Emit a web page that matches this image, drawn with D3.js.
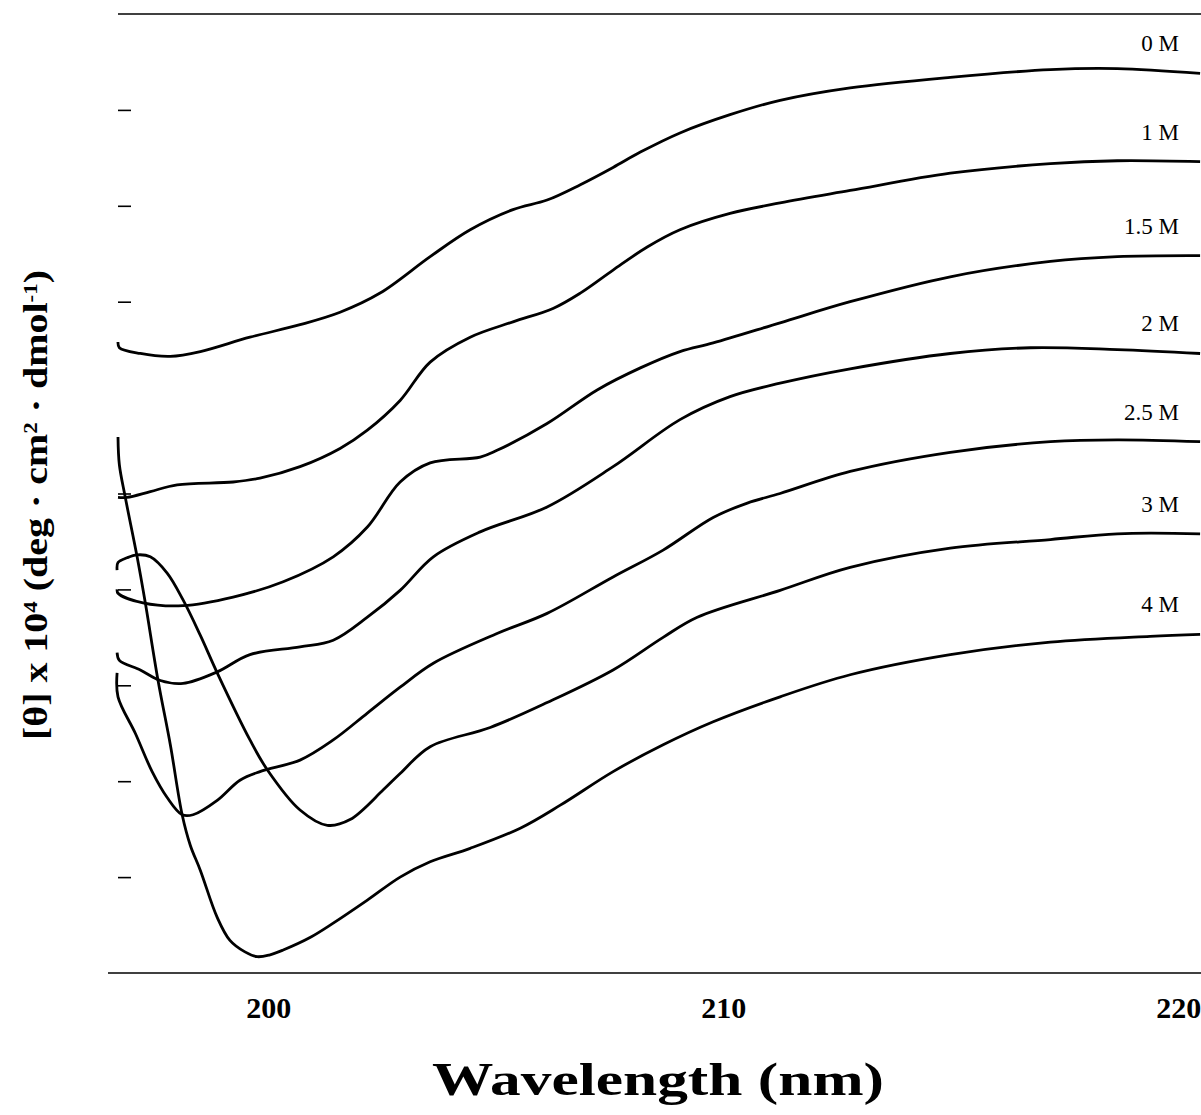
<!DOCTYPE html>
<html>

<head>
	<meta charset="utf-8">
	<script src="https://d3js.org/d3.v7.min.js"></script>
	<title>CD spectra</title>
	<style>
		body {
			margin: 0;
			background: #fff;
		}
	</style>
</head>

<body>
	<div id="chart"></div>
	<script>

		// wavelength (nm) , [theta] (arbitrary units, ticks every 1)
		let curve0M = [
			[196.70, -3.42], [196.73, -3.48], [197.19, -3.54], [197.85, -3.57], [198.51, -3.52],
			[199.60, -3.37], [200.70, -3.24], [201.58, -3.11], [202.46, -2.91], [203.56, -2.53],
			[204.44, -2.25], [205.38, -2.04], [206.13, -1.94], [206.86, -1.78], [207.58, -1.60],
			[208.18, -1.44], [209.05, -1.24], [210.15, -1.05], [211.25, -0.90], [212.79, -0.77],
			[214.99, -0.66], [217.19, -0.58], [218.66, -0.57], [220.48, -0.62]
		];
		let curve1M = [
			[196.70, -5.04], [196.90, -5.04], [197.41, -4.98], [198.00, -4.91], [199.23, -4.88],
			[199.82, -4.84], [200.70, -4.72], [201.58, -4.53], [202.18, -4.34], [202.90, -4.03],
			[203.56, -3.63], [204.44, -3.37], [205.38, -3.21], [206.26, -3.07], [206.86, -2.91],
			[207.58, -2.67], [208.33, -2.43], [209.05, -2.25], [210.15, -2.08], [211.25, -1.97],
			[212.79, -1.84], [214.99, -1.66], [217.19, -1.56], [218.66, -1.53], [220.48, -1.54]
		];
		let curve15M = [
			[196.68, -6.00], [196.70, -6.04], [197.25, -6.14], [198.13, -6.17], [199.23, -6.08],
			[200.33, -5.92], [201.43, -5.66], [202.18, -5.35], [202.90, -4.88], [203.56, -4.68],
			[204.66, -4.62], [205.03, -4.55], [206.13, -4.27], [207.23, -3.92], [208.18, -3.69],
			[209.05, -3.52], [209.78, -3.43], [211.25, -3.22], [212.79, -3.00], [214.99, -2.74],
			[217.19, -2.58], [218.66, -2.53], [220.48, -2.52]
		];
		let curve2M = [
			[196.68, -6.66], [196.73, -6.74], [197.19, -6.84], [197.63, -6.95], [198.13, -6.98],
			[198.88, -6.86], [199.60, -6.68], [200.70, -6.60], [201.43, -6.53], [202.18, -6.29],
			[202.90, -6.01], [203.63, -5.66], [204.66, -5.40], [206.13, -5.14], [207.58, -4.72],
			[209.05, -4.23], [210.15, -3.99], [211.25, -3.85], [212.79, -3.70], [214.99, -3.54],
			[216.75, -3.48], [218.66, -3.50], [220.48, -3.54]
		];
		let curve25M = [
			[196.68, -6.87], [196.70, -7.12], [197.08, -7.50], [197.45, -7.90], [197.78, -8.17],
			[198.11, -8.35], [198.35, -8.35], [198.88, -8.20], [199.38, -7.99], [199.82, -7.90],
			[200.70, -7.78], [201.43, -7.57], [202.18, -7.29], [202.90, -7.02], [203.63, -6.77],
			[205.03, -6.46], [206.13, -6.25], [207.58, -5.87], [208.68, -5.59], [209.78, -5.25],
			[210.53, -5.10], [211.25, -5.00], [212.79, -4.77], [214.99, -4.57], [217.19, -4.46],
			[218.66, -4.44], [220.48, -4.46]
		];
		let curve3M = [
			[196.68, -5.80], [196.70, -5.72], [196.90, -5.67], [197.12, -5.64], [197.41, -5.66],
			[197.78, -5.83], [198.13, -6.11], [198.51, -6.48], [198.88, -6.87], [199.60, -7.57],
			[199.98, -7.88], [200.70, -8.30], [201.30, -8.46], [201.80, -8.40], [202.53, -8.09],
			[202.90, -7.92], [203.56, -7.64], [204.88, -7.44], [206.13, -7.18], [207.58, -6.84],
			[208.68, -6.50], [209.43, -6.29], [211.25, -6.01], [212.79, -5.77], [214.99, -5.57],
			[217.19, -5.48], [218.66, -5.42], [220.48, -5.42]
		];
		let curve4M = [
			[196.70, -4.41], [196.73, -4.70], [196.86, -5.04], [197.12, -5.66], [197.30, -6.14],
			[197.58, -6.95], [197.85, -7.62], [198.11, -8.35], [198.29, -8.67], [198.51, -8.93],
			[198.88, -9.42], [199.16, -9.66], [199.49, -9.78], [199.76, -9.83], [200.04, -9.81],
			[200.33, -9.76], [200.92, -9.63], [201.43, -9.48], [202.18, -9.24], [202.90, -9.00],
			[203.56, -8.84], [204.44, -8.70], [205.54, -8.49], [206.42, -8.25], [207.58, -7.90],
			[208.68, -7.62], [209.78, -7.38], [211.25, -7.12], [212.79, -6.89], [214.99, -6.68],
			[217.19, -6.55], [219.38, -6.49], [220.48, -6.47]
		];

		let seriesNames = ["0 M", "1 M", "1.5 M", "2 M", "2.5 M", "3 M", "4 M"];
		let seriesData = [curve0M, curve1M, curve15M, curve2M, curve25M, curve3M, curve4M];

		let xTicks = [200, 210, 220];
		let yTicks = [-9, -8, -7, -6, -5, -3, -2, -1];
		let xDomain = [196.7, 220.5];
		let yDomain = [-10, 0];

		let width = 1201, height = 1115;
		let plot = { left: 118, right: 1201, top: 14, bottom: 973 };
		let serif = "'Liberation Serif', 'Times New Roman', serif";

		let svg = d3.select("#chart")
			.append("svg")
			.attr("width", width)
			.attr("height", height);

		let x = d3.scaleLinear().domain(xDomain).range([plot.left, plot.right]);
		let y = d3.scaleLinear().domain(yDomain).range([plot.bottom, plot.top]);

		// top frame line
		svg.append("line")
			.attr("x1", x(xDomain[0])).attr("x2", x(xDomain[1]))
			.attr("y1", y(yDomain[1])).attr("y2", y(yDomain[1]))
			.attr("stroke", "#000").attr("stroke-width", 1.6);

		// bottom axis
		let xAxis = svg.append("g")
			.attr("transform", "translate(0," + plot.bottom + ")")
			.call(d3.axisBottom(x).tickValues(xTicks).tickSize(0).tickSizeOuter(0).tickPadding(24));
		xAxis.select(".domain").attr("stroke-width", 1.6).attr("d", "M" + (plot.left - 10) + ",0H" + plot.right);
		xAxis.selectAll("text")
			.attr("font-family", serif)
			.attr("font-weight", "bold")
			.attr("font-size", 30)
			.attr("fill", "#000");

		// left ticks only, pointing inwards, no labels
		let yAxis = svg.append("g")
			.attr("transform", "translate(" + plot.left + ",0)")
			.call(d3.axisLeft(y).tickValues(yTicks).tickSize(-13).tickFormat(""));
		yAxis.select(".domain").remove();
		yAxis.selectAll("line").attr("stroke-width", 1.6);

		// curves
		let line = d3.line()
			.x(function (d) { return x(d[0]); })
			.y(function (d) { return y(d[1]); })
			.curve(d3.curveCatmullRom.alpha(0.5));

		svg.append("g")
			.selectAll("path")
			.data(seriesData)
			.enter().append("path")
			.attr("d", line)
			.attr("fill", "none")
			.attr("stroke", "#000")
			.attr("stroke-width", 2.8)
			.attr("stroke-linejoin", "round");

		// concentration labels above each curve's right end
		svg.append("g")
			.selectAll("text")
			.data(seriesData)
			.enter().append("text")
			.attr("x", 1179)
			.attr("y", function (d) { return y(d[d.length - 1][1]) - 22; })
			.attr("text-anchor", "end")
			.attr("font-family", serif)
			.attr("font-size", 23)
			.text(function (d, i) { return seriesNames[i]; });

		// axis titles
		svg.append("text")
			.attr("x", 658)
			.attr("y", 1095)
			.attr("text-anchor", "middle")
			.attr("font-family", serif)
			.attr("font-weight", "bold")
			.attr("font-size", 46)
			.attr("textLength", 452)
			.attr("lengthAdjust", "spacingAndGlyphs")
			.text("Wavelength (nm)");

		let yTitle = svg.append("text")
			.attr("transform", "translate(47,505) rotate(-90)")
			.attr("text-anchor", "middle")
			.attr("font-family", serif)
			.attr("font-weight", "bold")
			.attr("font-size", 33)
			.attr("textLength", 470)
			.attr("lengthAdjust", "spacingAndGlyphs");
		yTitle.append("tspan").text("[\u03B8] x 10");
		yTitle.append("tspan").attr("font-size", 19).attr("baseline-shift", "super").text("4");
		yTitle.append("tspan").text(" (deg \u00B7 cm");
		yTitle.append("tspan").attr("font-size", 19).attr("baseline-shift", "super").text("2");
		yTitle.append("tspan").text(" \u00B7 dmol");
		yTitle.append("tspan").attr("font-size", 19).attr("baseline-shift", "super").text("-1");
		yTitle.append("tspan").text(")");

	</script>
</body>

</html>
